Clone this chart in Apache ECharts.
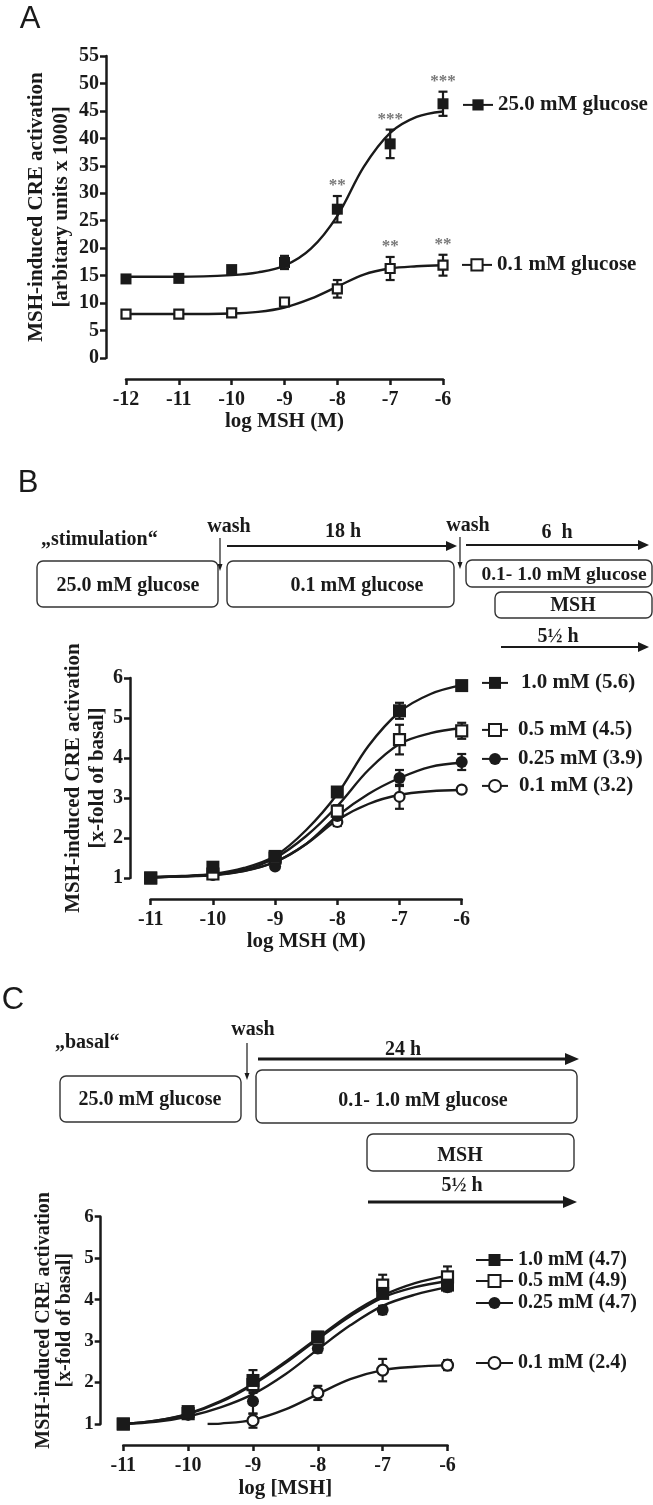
<!DOCTYPE html>
<html><head><meta charset="utf-8">
<script src="https://cdn.jsdelivr.net/npm/echarts@6/dist/echarts.min.js"></script>
<style>html,body{margin:0;padding:0;background:#fff}#c{width:653px;height:1505px}</style>
</head><body><div id="c"></div>
<script>
// ---------- Panel A data ----------
const logA = [-12, -11, -10, -9, -8, -7, -6];
const a25Mean = [14.4, 14.5, 16.1, 17.4, 27.1, 39.0, 46.3];
const a25Err  = [0.7, 0.4, 0.6, 1.2, 2.4, 2.6, 2.2];
const a01Mean = [8.0, 8.0, 8.2, 10.2, 12.6, 16.3, 16.9];
const a01Err  = [0.3, 0.3, 0.3, 0.6, 1.6, 2.1, 1.9];
const aCurveX = [-12, -11, -10, -9.5, -9, -8.5, -8, -7.5, -7, -6.5, -6];
const a25Curve = [14.8, 14.8, 15.1, 15.6, 16.8, 19.9, 25.9, 34.8, 41.0, 43.9, 44.9];
const a01Curve = [8.0, 8.0, 8.1, 8.4, 9.2, 10.8, 13.0, 15.2, 16.3, 16.7, 16.9];
const a25Sig = ['', '', '', '', '**', '***', '***'];
const a01Sig = ['', '', '', '', '', '**', '**'];
const aYTicks = {min: 0, max: 55, interval: 5};

// ---------- Panel B data ----------
const logB = [-11, -10, -9, -8, -7, -6];
const b10Mean = [1.0, 1.27, 1.54, 3.15, 5.18, 5.81];
const b10Err  = [0.03, 0.05, 0.06, 0.1, 0.2, 0.1];
const b05Mean = [1.0, 1.1, 1.5, 2.67, 4.46, 4.68];
const b05Err  = [0.03, 0.04, 0.05, 0.15, 0.37, 0.2];
const b025Mean = [1.0, 1.08, 1.29, 2.55, 3.5, 3.9];
const b025Err  = [0.03, 0.04, 0.05, 0.12, 0.2, 0.2];
const b01Mean = [1.0, 1.08, 1.4, 2.4, 3.03, 3.21];
const b01Err  = [0.03, 0.04, 0.05, 0.1, 0.3, 0.05];
const bcCurveX = [-11, -10.5, -10, -9.5, -9, -8.5, -8, -7.5, -7, -6.5, -6];
const b10Curve  = [1.02, 1.05, 1.1, 1.25, 1.55, 2.2, 3.1, 4.3, 5.15, 5.6, 5.82];
const b05Curve  = [1.02, 1.04, 1.08, 1.2, 1.5, 2.05, 2.8, 3.7, 4.35, 4.62, 4.75];
const b025Curve = [1.02, 1.04, 1.08, 1.18, 1.4, 1.85, 2.55, 3.1, 3.5, 3.78, 3.88];
const b01Curve  = [1.02, 1.04, 1.07, 1.17, 1.4, 1.85, 2.45, 2.85, 3.08, 3.17, 3.2];
const bNames = ['1.0 mM (5.6)', '0.5 mM (4.5)', '0.25 mM (3.9)', '0.1 mM (3.2)'];

// ---------- Panel C data ----------
const logC = [-11, -10, -9, -8, -7, -6];
const c10Mean = [1.0, 1.3, 2.05, 3.1, 4.15, 4.35];
const c10Err  = [0.04, 0.06, 0.25, 0.12, 0.12, 0.12];
const c05Mean = [1.0, 1.25, 1.95, 3.05, 4.35, 4.55];
const c05Err  = [0.04, 0.05, 0.2, 0.1, 0.25, 0.25];
const c025Mean = [1.0, 1.22, 1.55, 2.82, 3.75, 4.3];
const c025Err  = [0.04, 0.05, 0.3, 0.1, 0.1, 0.1];
const logC01 = [-9, -8, -7, -6];
const c01Mean = [1.08, 1.75, 2.3, 2.42];
const c01Err  = [0.17, 0.17, 0.27, 0.12];
const c05Curve  = [1.0, 1.08, 1.25, 1.55, 1.97, 2.5, 3.08, 3.65, 4.1, 4.4, 4.58];
const c10Curve  = [1.0, 1.08, 1.24, 1.53, 1.95, 2.47, 3.05, 3.6, 4.05, 4.3, 4.45];
const c025Curve = [1.0, 1.05, 1.18, 1.4, 1.72, 2.2, 2.8, 3.38, 3.85, 4.12, 4.3];
const c01CurveX = [-9.7, -9.5, -9, -8.5, -8, -7.5, -7, -6.5, -6];
const c01Curve  = [1.0, 1.01, 1.1, 1.35, 1.72, 2.08, 2.3, 2.38, 2.42];
const cNames = ['1.0 mM (4.7)', '0.5 mM (4.9)', '0.25 mM (4.7)', '0.1 mM (2.4)'];

// ---------- helpers ----------
const INK = '#1a1a1a';
const SERIF = "'Liberation Serif','Times New Roman',serif";
const SANS = "'Liberation Sans',Arial,sans-serif";
const zip = (xs, ys) => xs.map((x, i) => [x, ys[i]]);
const errData = (xs, m, e) => xs.map((x, i) => [x, m[i] - e[i], m[i] + e[i]]);

function errRender(params, api) {
  const x = api.value(0), lo = api.value(1), hi = api.value(2);
  const p1 = api.coord([x, hi]), p2 = api.coord([x, lo]);
  const w = 4.5;
  const style = {stroke: INK, lineWidth: 2.2, fill: null};
  return {type: 'group', children: [
    {type: 'line', shape: {x1: p1[0], y1: p1[1], x2: p2[0], y2: p2[1]}, style},
    {type: 'line', shape: {x1: p1[0] - w, y1: p1[1], x2: p1[0] + w, y2: p1[1]}, style},
    {type: 'line', shape: {x1: p2[0] - w, y1: p2[1], x2: p2[0] + w, y2: p2[1]}, style}
  ]};
}

function curve(name, xs, ys, gi, sym, open, symSize) {
  return {
    type: 'line', name, xAxisIndex: gi, yAxisIndex: gi,
    data: zip(xs, ys), smooth: 0.35,
    showSymbol: false, symbol: sym, symbolSize: symSize,
    lineStyle: {color: INK, width: 2.4},
    itemStyle: open ? {color: '#fff', borderColor: INK, borderWidth: 2, opacity: 1} : {color: INK, opacity: 1},
    z: 3, silent: true
  };
}
function markers(name, xs, ys, gi, sym, open, size) {
  return {
    type: 'scatter', name: name + ' data', xAxisIndex: gi, yAxisIndex: gi,
    data: zip(xs, ys), symbol: sym, symbolSize: size,
    itemStyle: open ? {color: '#fff', borderColor: INK, borderWidth: 2.2, opacity: 1} : {color: INK, opacity: 1},
    z: 5, silent: true
  };
}
function errors(xs, m, e, gi) {
  return {
    type: 'custom', xAxisIndex: gi, yAxisIndex: gi,
    data: errData(xs, m, e), encode: {x: 0, y: [1, 2]},
    renderItem: errRender, z: 4, silent: true
  };
}
function stars(xs, m, e, sig, gi) {
  const d = [];
  xs.forEach((x, i) => { if (sig[i]) d.push([x, m[i] + e[i], sig[i]]); });
  return {
    type: 'scatter', xAxisIndex: gi, yAxisIndex: gi, data: d,
    symbol: 'circle', symbolSize: 1, itemStyle: {color: 'rgba(0,0,0,0)'},
    label: {show: true, position: 'top', distance: 1, formatter: p => p.data[2],
      color: '#555', fontFamily: SERIF, fontSize: 17, fontWeight: 'bold'},
    z: 6, silent: true
  };
}

function xAxisDef(gi, min, max, name, nameGap, fs) {
  return {
    type: 'value', gridIndex: gi, min, max, interval: 1, offset: 21,
    axisLine: {show: true, onZero: false, lineStyle: {color: INK, width: 2.5}},
    axisTick: {show: true, length: 6, lineStyle: {color: INK, width: 2.5}},
    axisLabel: {color: INK, fontFamily: SERIF, fontWeight: 'bold', fontSize: fs, margin: 11},
    splitLine: {show: false},
    name, nameLocation: 'middle', nameGap,
    nameTextStyle: {color: INK, fontFamily: SERIF, fontWeight: 'bold', fontSize: fs + 1}
  };
}
function yAxisDef(gi, min, max, interval, offset, name, nameGap, fs, lh) {
  return {
    type: 'value', gridIndex: gi, min, max, interval, offset,
    axisLine: {show: true, onZero: false, lineStyle: {color: INK, width: 2.5}},
    axisTick: {show: true, length: 6, lineStyle: {color: INK, width: 2.5}},
    axisLabel: {color: INK, fontFamily: SERIF, fontWeight: 'bold', fontSize: fs, margin: 7},
    splitLine: {show: false},
    name, nameLocation: 'middle', nameRotate: 90, nameGap,
    nameTextStyle: {color: INK, fontFamily: SERIF, fontWeight: 'bold', fontSize: fs + 1, lineHeight: lh}
  };
}
function legendItem(name, left, cy, itemWidth, itemHeight, fs, padLeft) {
  return {
    data: [name], left, top: cy - fs * 0.6, orient: 'vertical', padding: 0,
    itemWidth, itemHeight, selectedMode: false,
    textStyle: {color: INK, fontFamily: SERIF, fontWeight: 'bold', fontSize: fs,
      padding: [0, 0, 0, padLeft || 0]}
  };
}

// ---------- diagram graphics ----------
const T = (text, x, y, fs, align, family, weight) => ({
  type: 'text', silent: true,
  style: {text, x, y, font: (weight || 'bold') + ' ' + fs + 'px ' + (family || SERIF),
    fill: INK, align: align || 'center', textAlign: align || 'center',
    verticalAlign: 'middle', textVerticalAlign: 'middle'}
});
const R = (x, y, w, h) => ({type: 'rect', silent: true, shape: {x, y, width: w, height: h, r: 6},
  style: {fill: null, stroke: '#333', lineWidth: 1.4}});
const L = (x1, y1, x2, y2, lw) => ({type: 'line', silent: true, shape: {x1, y1, x2, y2},
  style: {stroke: INK, lineWidth: lw}});
const HEAD_R = (x, y, len, half) => ({type: 'polygon', silent: true,
  shape: {points: [[x - len, y - half], [x, y], [x - len, y + half]]}, style: {fill: INK}});
const HEAD_D = (x, y, len, half) => ({type: 'polygon', silent: true,
  shape: {points: [[x - half, y - len], [x, y], [x + half, y - len]]}, style: {fill: INK}});

const graphics = [
  T('A', 30, 19, 31, 'center', SANS, 'normal'),
  T('B', 28, 483, 31, 'center', SANS, 'normal'),
  T('C', 13, 1000, 31, 'center', SANS, 'normal'),
  // Panel B scheme
  T('\u201Estimulation\u201C', 41, 540, 20, 'left'),
  T('wash', 229, 527, 20),
  L(220, 538, 220, 565, 1.2), HEAD_D(220, 571, 7, 2.5),
  T('18 h', 343, 532, 20),
  L(227, 546, 448, 546, 2), HEAD_R(457, 546, 11, 5),
  T('wash', 468, 526, 20),
  L(460, 537, 460, 563, 1.2), HEAD_D(460, 569, 7, 2.5),
  T('6  h', 557, 533, 20),
  L(466, 545, 640, 545, 2), HEAD_R(649, 545, 11, 5),
  R(37, 561, 181, 46), T('25.0 mM glucose', 128, 586, 20),
  R(227, 561, 227, 46), T('0.1 mM glucose', 357, 586, 20),
  R(466, 560, 186, 27), T('0.1- 1.0 mM glucose', 564, 575, 19.5),
  R(495, 592, 157, 26), T('MSH', 573, 606, 20),
  T('5\u00BD h', 558, 637, 20),
  L(501, 647, 640, 647, 2), HEAD_R(649, 647, 11, 5),
  // Panel C scheme
  T('\u201Ebasal\u201C', 55, 1043, 20, 'left'),
  T('wash', 253, 1030, 20),
  L(247, 1043, 247, 1074, 1.2), HEAD_D(247, 1080, 7, 2.5),
  T('24 h', 403, 1050, 20),
  L(258, 1059, 566, 1059, 2.8), HEAD_R(579, 1059, 14, 6),
  R(60, 1076, 181, 46), T('25.0 mM glucose', 150, 1100, 20),
  R(256, 1070, 321, 53), T('0.1- 1.0 mM glucose', 423, 1101, 20),
  R(367, 1134, 207, 37), T('MSH', 460, 1156, 20),
  T('5\u00BD h', 462, 1186, 20),
  L(368, 1202, 564, 1202, 2.8), HEAD_R(577, 1202, 14, 6)
];

const series = [
  // Panel A
  curve('25.0 mM glucose', aCurveX, a25Curve, 0, 'rect', false, 11),
  curve('0.1 mM glucose', aCurveX, a01Curve, 0, 'rect', true, 11),
  errors(logA, a25Mean, a25Err, 0), errors(logA, a01Mean, a01Err, 0),
  markers('25.0 mM glucose', logA, a25Mean, 0, 'rect', false, 11),
  markers('0.1 mM glucose', logA, a01Mean, 0, 'rect', true, 9),
  stars(logA, a25Mean, a25Err, a25Sig, 0), stars(logA, a01Mean, a01Err, a01Sig, 0),
  // Panel B
  curve(bNames[0], bcCurveX, b10Curve, 1, 'rect', false, 12),
  curve(bNames[1], bcCurveX, b05Curve, 1, 'rect', true, 12),
  curve(bNames[2], bcCurveX, b025Curve, 1, 'circle', false, 12),
  curve(bNames[3], bcCurveX, b01Curve, 1, 'circle', true, 12),
  errors(logB, b10Mean, b10Err, 1), errors(logB, b05Mean, b05Err, 1),
  errors(logB, b025Mean, b025Err, 1), errors(logB, b01Mean, b01Err, 1),
  markers(bNames[3], logB, b01Mean, 1, 'circle', true, 10),
  markers(bNames[2], logB, b025Mean, 1, 'circle', false, 12),
  markers(bNames[1], logB, b05Mean, 1, 'rect', true, 11),
  markers(bNames[0], logB, b10Mean, 1, 'rect', false, 13),
  // Panel C
  curve(cNames[0], bcCurveX, c10Curve, 2, 'rect', false, 12),
  curve(cNames[1], bcCurveX, c05Curve, 2, 'rect', true, 12),
  curve(cNames[2], bcCurveX, c025Curve, 2, 'circle', false, 12),
  curve(cNames[3], c01CurveX, c01Curve, 2, 'circle', true, 12),
  errors(logC, c10Mean, c10Err, 2), errors(logC, c05Mean, c05Err, 2),
  errors(logC, c025Mean, c025Err, 2), errors(logC01, c01Mean, c01Err, 2),
  markers(cNames[3], logC01, c01Mean, 2, 'circle', true, 11),
  markers(cNames[2], logC, c025Mean, 2, 'circle', false, 12),
  markers(cNames[1], logC, c05Mean, 2, 'rect', true, 11),
  markers(cNames[0], logC, c10Mean, 2, 'rect', false, 13)
];

const option = {
  animation: false,
  backgroundColor: '#fff',
  grid: [
    {left: 126, top: 56, width: 317, height: 302, outerBoundsMode: 'none'},
    {left: 150.7, top: 678, width: 311, height: 200, outerBoundsMode: 'none'},
    {left: 123.3, top: 1216.7, width: 324.2, height: 207.3, outerBoundsMode: 'none'}
  ],
  xAxis: [
    xAxisDef(0, -12, -6, 'log MSH (M)', 25, 20),
    xAxisDef(1, -11, -6, 'log MSH (M)', 32, 20),
    xAxisDef(2, -11, -6, 'log [MSH]', 33, 20)
  ],
  yAxis: [
    yAxisDef(0, aYTicks.min, aYTicks.max, aYTicks.interval, 20,
      'MSH-induced CRE activation\n[arbitary units x 1000]', 32, 20, 25),
    yAxisDef(1, 1, 6, 1, 20.7, 'MSH-induced CRE activation\n[x-fold of basal]', 19, 20, 24),
    yAxisDef(2, 1, 6, 1, 22.6, 'MSH-induced CRE activation\n[x-fold of basal]', 25, 19, 21)
  ],
  legend: [
    legendItem('25.0 mM glucose', 462, 107, 30, 14, 21),
    legendItem('0.1 mM glucose', 461, 267, 30, 14, 21),
    legendItem(bNames[0], 481, 685, 26, 15, 21, 8),
    legendItem(bNames[1], 481, 732, 26, 15, 21, 5),
    legendItem(bNames[2], 481, 761, 26, 15, 21, 5),
    legendItem(bNames[3], 481, 788, 26, 15, 21, 6),
    legendItem(cNames[0], 475, 1262, 37, 15, 20),
    legendItem(cNames[1], 475, 1283, 37, 15, 20),
    legendItem(cNames[2], 475, 1305, 37, 15, 20),
    legendItem(cNames[3], 475, 1365, 37, 15, 20)
  ],
  graphic: {elements: graphics},
  series
};
const chart = echarts.init(document.getElementById('c'), null, {renderer: 'canvas'});
chart.setOption(option);
</script></body></html>
